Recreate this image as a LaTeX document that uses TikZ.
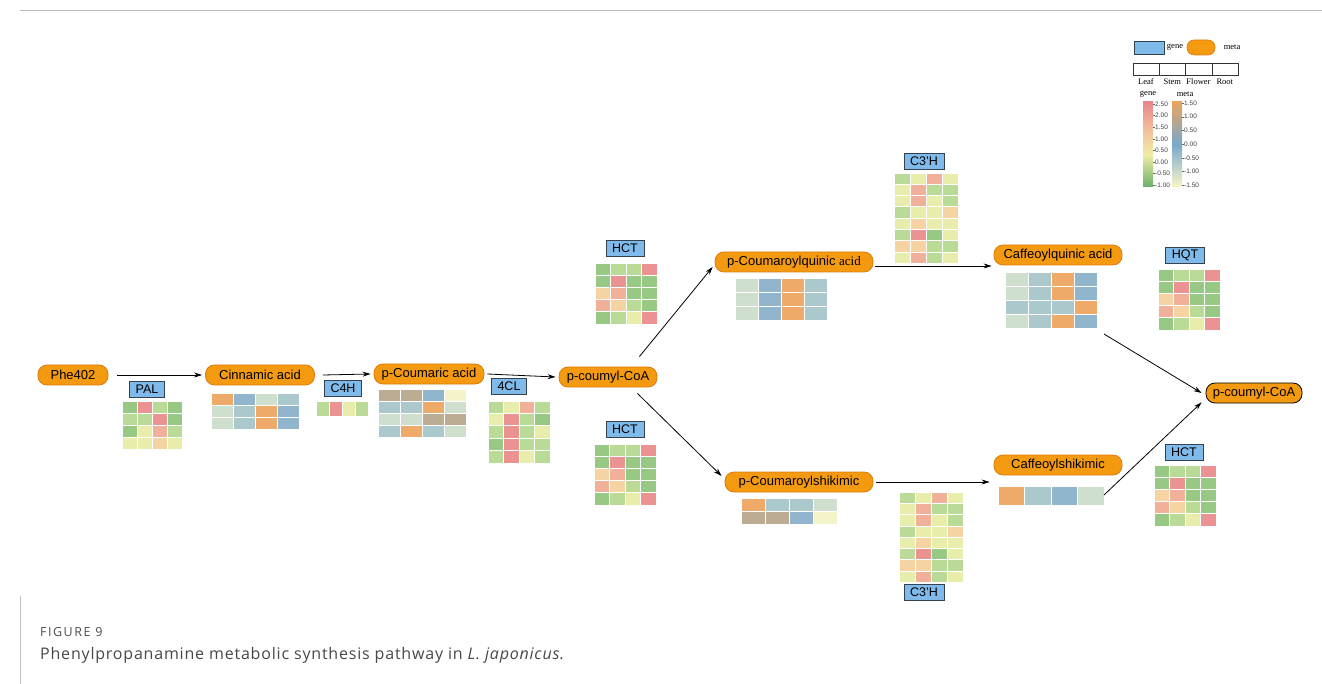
\documentclass[tikz,border=0pt]{standalone}
\usepackage{fontspec}
\setmainfont{Liberation Sans}
\newfontfamily\seriff{Liberation Serif}
\newfontfamily\capfont{Open Sans}
\usepackage{tikz}
\usetikzlibrary{arrows.meta}

\definecolor{metaorange}{HTML}{F39A10}
\definecolor{metaedge}{HTML}{DE7A0C}
\definecolor{geneblue}{HTML}{80BAEA}
\definecolor{geneedge}{HTML}{34424F}
% heatmap colours, gene
\definecolor{cG}{HTML}{97C984}
\definecolor{cL}{HTML}{BADB98}
\definecolor{cY}{HTML}{E9EDAC}
\definecolor{cP}{HTML}{F5D3A2}
\definecolor{cS}{HTML}{F0B099}
\definecolor{cR}{HTML}{EB9292}
% heatmap colours, meta
\definecolor{mO}{HTML}{EDAA68}
\definecolor{mB}{HTML}{90B5CC}
\definecolor{mb}{HTML}{ABC8CD}
\definecolor{mG}{HTML}{CEDFCE}
\definecolor{mT}{HTML}{BCAC94}
\definecolor{mY}{HTML}{F4F3CA}
% colour bars
\definecolor{barG}{HTML}{6CB06A}
\definecolor{barY}{HTML}{EEEDA2}
\definecolor{barP}{HTML}{F2C69C}
\definecolor{barR}{HTML}{E8868D}
\definecolor{barO}{HTML}{E8A55E}
\definecolor{barB}{HTML}{7AA8CC}
\definecolor{barW}{HTML}{F8F6C8}
\pgfdeclareverticalshading{genebar}{100bp}{color(0bp)=(barG); color(25bp)=(barG); color(44bp)=(barY); color(57bp)=(barP); color(75bp)=(barR); color(100bp)=(barR)}
\pgfdeclareverticalshading{metabar}{100bp}{color(0bp)=(barW); color(25bp)=(barW); color(50bp)=(barB); color(75bp)=(barO); color(100bp)=(barO)}

\tikzset{
  metab/.style={rectangle, rounded corners=9pt, fill=metaorange, draw=metaedge,
    line width=0.8pt, minimum height=20pt, inner sep=1pt, font=\fontsize{13}{14}\selectfont},
  genebox/.style={rectangle, fill=geneblue, draw=geneedge, line width=0.7pt,
    minimum height=16pt, inner xsep=6pt, inner ysep=0pt, font=\fontsize{12.5}{14}\selectfont},
  flow/.style={-{Stealth[length=8pt,width=5pt]}, line width=0.8pt, black},
  cell/.style={draw=white, line width=0.8pt},
  legtext/.style={font=\seriff\fontsize{8.5}{9}\selectfont, inner sep=0pt},
  ticktext/.style={font=\fontsize{6.5}{7}\selectfont, text=black!75, anchor=west, inner sep=0pt}
}

% heatmap: name, x, y, cell width, cell height, rows
\newcommand\hmap[6]{%
  \foreach \hrow [count=\ri] in {#6}{%
    \foreach \hcol [count=\ci] in \hrow{%
      \filldraw[cell, fill=\hcol] ({#2+(\ci-1)*#4},{#3+(\ri-1)*#5}) rectangle ++(#4,#5);
    }
    \global\let\hrows\ri
  }
  \coordinate (#1-nw) at (#2,#3);
  \coordinate (#1-se) at ({#2+4*#4},{#3+\hrows*#5});
}

\begin{document}
\begin{tikzpicture}[x=1pt,y=-1pt]
\useasboundingbox (0,0) rectangle (1322,684);
\draw[black!25, line width=0.8pt] (20,10) -- (1322,10);
\draw[black!25, line width=0.8pt] (20,596) -- (20,684);

% metabolites
\node[metab, minimum width=70pt] (phe) at (73,375) {Phe402};
\node[metab, minimum width=109pt] (cin) at (260,375) {Cinnamic acid};
\node[metab, minimum width=110pt] (pca) at (429,374) {p-Coumaric acid};
\node[metab, minimum width=98pt] (pcoa) at (608,377) {p-coumyl-CoA};
\node[metab, minimum width=158pt] (pcq) at (794,262) {p-Coumaroylquinic {\seriff acid}};
\node[metab, minimum width=148pt] (pcs) at (799,482) {p-Coumaroylshikimic};
\node[metab, minimum width=128pt] (cfq) at (1058,255) {Caffeoylquinic acid};
\node[metab, minimum width=128pt] (cfs) at (1058,465) {Caffeoylshikimic};
\node[metab, minimum width=96pt, draw=black] (pcoa2) at (1254,393) {p-coumyl-CoA};

% genes
\node[genebox] (pal) at (147,389) {PAL};
\node[genebox] (c4h) at (343,388) {C4H};
\node[genebox] (fcl) at (509,386) {4CL};
\node[genebox] (hcta) at (625,248) {HCT};
\node[genebox] (hctb) at (625,429) {HCT};
\node[genebox] (c3ha) at (924,161) {C3'H};
\node[genebox] (c3hb) at (924,592) {C3'H};
\node[genebox] (hqt) at (1185,255) {HQT};
\node[genebox] (hctc) at (1184,452) {HCT};

% heatmaps
\hmap{palmap}{122}{401}{15}{12}{{cG,cR,cL,cG},{cL,cL,cR,cG},{cG,cY,cS,cL},{cY,cY,cP,cY}}
\hmap{cinmap}{211}{393}{22}{12}{{mO,mB,mG,mb},{mG,mb,mO,mB},{mG,mb,mO,mB}}
\hmap{c4hmap}{316}{401}{13}{15}{{cL,cR,cY,cL}}
\hmap{pcamap}{378}{389}{22}{12}{{mT,mT,mB,mY},{mb,mb,mO,mG},{mG,mG,mT,mT},{mb,mO,mb,mG}}
\hmap{fclmap}{488}{401}{15.5}{12.4}{{cL,cY,cS,cL},{cY,cR,cL,cG},{cL,cR,cL,cY},{cG,cR,cL,cL},{cL,cR,cY,cL}}
\hmap{hctamap}{595}{263}{15.5}{12.2}{{cG,cL,cL,cR},{cG,cR,cG,cG},{cP,cS,cG,cG},{cS,cP,cL,cG},{cG,cL,cY,cR}}
\hmap{hctbmap}{594}{444}{15.5}{12.2}{{cG,cL,cL,cR},{cG,cR,cG,cG},{cP,cS,cG,cG},{cS,cP,cL,cG},{cG,cL,cY,cR}}
\hmap{pcqmap}{735}{278}{23}{14.3}{{mG,mB,mO,mb},{mG,mB,mO,mb},{mG,mB,mO,mb}}
\hmap{pcsmap}{741}{498}{24}{13}{{mO,mb,mb,mG},{mT,mT,mB,mY}}
\hmap{c3hamap}{894}{173}{16}{11.3}{{cL,cY,cS,cY},{cY,cS,cL,cL},{cY,cS,cY,cL},{cL,cY,cY,cP},{cY,cP,cY,cY},{cL,cR,cG,cY},{cP,cP,cL,cL},{cY,cS,cL,cY}}
\hmap{c3hbmap}{899}{492}{16}{11.3}{{cL,cY,cS,cY},{cY,cS,cL,cL},{cY,cS,cY,cL},{cL,cY,cY,cP},{cY,cP,cY,cY},{cL,cR,cG,cY},{cP,cP,cL,cL},{cY,cS,cL,cY}}
\hmap{cfqmap}{1005}{272}{23}{14}{{mG,mb,mO,mB},{mG,mb,mO,mB},{mb,mb,mb,mO},{mG,mb,mO,mB}}
\hmap{cfsmap}{998}{486}{26.5}{19}{{mO,mb,mB,mG}}
\hmap{hqtmap}{1158}{269}{15.5}{12.2}{{cG,cL,cL,cR},{cG,cR,cG,cG},{cP,cS,cG,cG},{cS,cP,cL,cG},{cG,cL,cY,cR}}
\hmap{hctcmap}{1154}{465}{15.5}{12.2}{{cG,cL,cL,cR},{cG,cR,cG,cG},{cP,cS,cG,cG},{cS,cP,cL,cG},{cG,cL,cY,cR}}

% reactions
\draw[flow] ([xshift=9pt]phe.east) -- ([xshift=-3pt]cin.west);
\draw[flow] ([xshift=8pt]cin.east) -- ([xshift=-3pt]pca.west);
\draw[flow] ([xshift=3pt]pca.east) -- ([xshift=-3pt]pcoa.west);
\draw[flow] ([xshift=-18pt,yshift=10pt]pcoa.north east) -- ([xshift=-2pt,yshift=-5pt]pcq.west);
\draw[flow] ([xshift=-20pt,yshift=-6pt]pcoa.south east) -- ([xshift=-3pt,yshift=6pt]pcs.west);
\coordinate (q1) at ([xshift=2pt,yshift=-4pt]pcq.east);
\draw[flow] (q1) -- ([xshift=-2pt]q1 -| cfq.west);
\coordinate (s1) at ([xshift=3pt]pcs.east);
\draw[flow] (s1) -- ([xshift=-4pt]s1 -| cfs.west);
\draw[flow] ([shift={(7pt,-6pt)}]cfqmap-se) -- ([xshift=-4pt]pcoa2.west);
\draw[flow] ([yshift=10pt]cfsmap-se) -- ([xshift=-4pt,yshift=1pt]pcoa2.south west);

% legend
\draw[fill=geneblue, draw=geneedge, line width=0.6pt] (1134,41) rectangle (1164,54);
\node[legtext] (leggene) at (1175,47) {gene};
\draw[fill=metaorange, draw=metaedge, line width=0.6pt, rounded corners=7pt] (1187,40) rectangle (1215,55);
\node[legtext] (legmeta) at (1232,47) {meta};
\foreach \k in {0,...,3}
  \draw[black!80, line width=0.5pt] ({1133+\k*26.25},63) rectangle ++(26.25,12);
\foreach \lab/\k in {Leaf/0,Stem/1,Flower/2,Root/3}
  \node[legtext] (leg\lab) at ({1146+\k*26.25},82) {\lab};
\node[legtext] (bargene) at (1148,94) {gene};
\node[legtext] (barmeta) at (1185,94) {meta};
\shade[shading=genebar] (1143,102) rectangle (1153,187);
\shade[shading=metabar] (1172,102) rectangle (1182,187);
\foreach \v [count=\k from 0] in {2.50,2.00,1.50,1.00,0.50,0.00,-0.50,-1.00} {
  \draw[black!60, line width=0.3pt] (1153,{104+\k*11.6}) -- ++(2,0);
  \node[ticktext] at (1155,{104+\k*11.6}) {\v};
}
\foreach \v [count=\k from 0] in {1.50,1.00,0.50,0.00,-0.50,-1.00,-1.50} {
  \draw[black!60, line width=0.3pt] (1182,{103+\k*13.7}) -- ++(2,0);
  \node[ticktext] at (1184,{103+\k*13.7}) {\v};
}

% caption
\node[anchor=west, inner sep=0pt, text=black!70, font=\capfont\addfontfeature{LetterSpace=12}\fontsize{12.5}{14}\selectfont] (figno) at (40,632) {FIGURE 9};
\node[anchor=west, inner sep=0pt, text=black!72, font=\capfont\addfontfeature{LetterSpace=5}\fontsize{16}{18}\selectfont] (figcap) at (40,655)
  {Phenylpropanamine metabolic synthesis pathway in \textit{L. japonicus}.};
\end{tikzpicture}
\end{document}
